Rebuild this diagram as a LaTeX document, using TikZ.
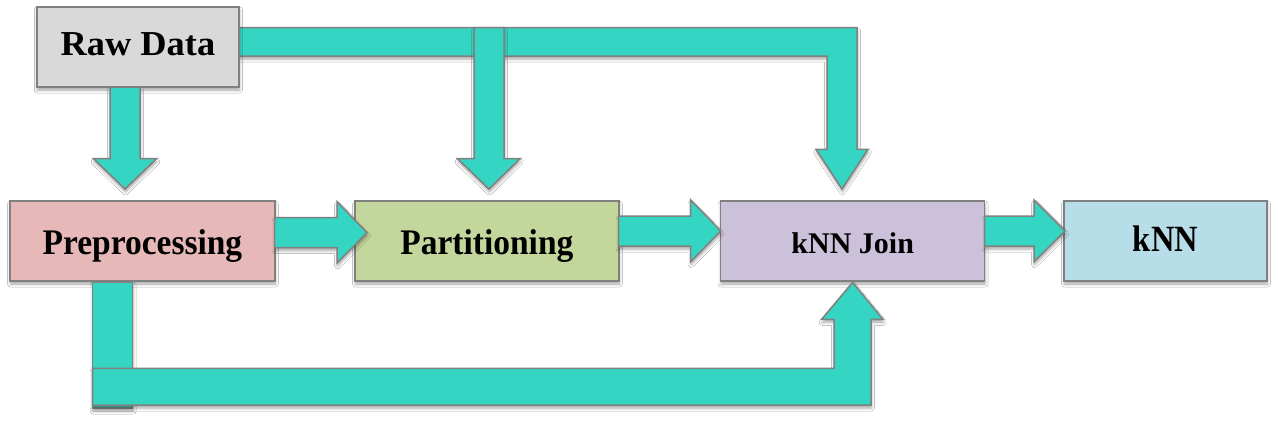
\documentclass[tikz,border=0pt]{standalone}
\usepackage{fontspec}
\newfontfamily\lblfont{Liberation Serif}[BoldFont={Liberation Serif Bold}]
\usetikzlibrary{shadows.blur,calc}
\definecolor{flowc}{RGB}{53,213,195}
\definecolor{edgec}{RGB}{128,128,128}
\definecolor{cRaw}{RGB}{217,217,217}
\definecolor{cPre}{RGB}{230,185,184}
\definecolor{cPar}{RGB}{195,214,155}
\definecolor{cJoin}{RGB}{204,193,218}
\definecolor{cKnn}{RGB}{183,222,232}
\begin{document}
\begin{tikzpicture}[x=1pt,y=-1pt,
  softshadow/.style={blur shadow={shadow xshift=0.5pt,shadow yshift=-3pt,shadow blur radius=3pt,shadow opacity=35}},
  blockbox/.style={rectangle,draw=edgec,line width=1.5pt,inner sep=0pt,softshadow,
    text height=17pt,text depth=0pt,font=\lblfont\bfseries},
  flowarrow/.style={fill=flowc,draw=edgec,line width=1.5pt,line join=miter,softshadow}]
\useasboundingbox (0,0) rectangle (1278,424);
\fill[white] (0,0) rectangle (1278,424);

% top band from Raw Data to kNN Join
\draw[flowarrow] (232,27.7) -- (857,27.7) -- (857,149.3) -- (868,149.3) -- (842,189)
  -- (816,149.3) -- (827,149.3) -- (827,56) -- (232,56) -- cycle;

\node[blockbox,fill=cRaw,minimum width=202.3pt,minimum height=80.3pt,text height=18pt] (raw) at (137.9,46.9)
  {\fontsize{35}{40}\selectfont\scalebox{1.04}[1]{Raw Data}};

% Raw Data -> Partitioning (branch of top band)
\draw[flowarrow] (474,27.7) -- (504,27.7) -- (504,158.7) -- (520,158.7) -- (489,189)
  -- (457.5,158.7) -- (474,158.7) -- cycle;

% Raw Data -> Preprocessing
\draw[flowarrow] (110,87) -- (140,87) -- (140,158.7) -- (156.5,158.7) -- (125,189)
  -- (93.5,158.7) -- (110,158.7) -- cycle;

\node[blockbox,fill=cPre,minimum width=264.7pt,minimum height=80pt,text height=27pt] (pre) at (142.4,241)
  {\fontsize{36}{42}\selectfont\scalebox{0.93}[1]{Preprocessing}};
\node[blockbox,fill=cPar,minimum width=263.7pt,minimum height=80pt,text height=27pt] (par) at (486.9,241)
  {\fontsize{36}{42}\selectfont\scalebox{0.93}[1]{Partitioning}};
\node[blockbox,fill=cJoin,minimum width=264pt,minimum height=80pt,text height=24pt] (join) at (852.7,241)
  {\fontsize{30}{36}\selectfont kNN Join};
\node[blockbox,fill=cKnn,minimum width=203pt,minimum height=80pt,text height=21pt] (knn) at (1165.5,241)
  {\fontsize{37}{42}\selectfont\scalebox{0.88}[1]{kNN}};

% Preprocessing -> kNN Join (bottom route)
\draw[flowarrow] (92.7,282) rectangle (132.7,408);
\draw[flowarrow] (92.7,368.3) -- (834,368.3) -- (834,319.3) -- (821.7,319.3) -- (852.7,282.5)
  -- (883,319.3) -- (871,319.3) -- (871,405) -- (92.7,405) -- cycle;

% horizontal arrows
\draw[flowarrow] (274.7,217.7) -- (337,217.7) -- (337,201.7) -- (367,232.7) -- (337,263)
  -- (337,247.7) -- (274.7,247.7) -- cycle;
\draw[flowarrow] (618.7,216) -- (690.7,216) -- (690.7,200) -- (720.7,231) -- (690.7,261.7)
  -- (690.7,246) -- (618.7,246) -- cycle;
\draw[flowarrow] (984.7,216) -- (1034,216) -- (1034,200) -- (1065,231) -- (1034,261.7)
  -- (1034,246) -- (984.7,246) -- cycle;
\end{tikzpicture}
\end{document}
